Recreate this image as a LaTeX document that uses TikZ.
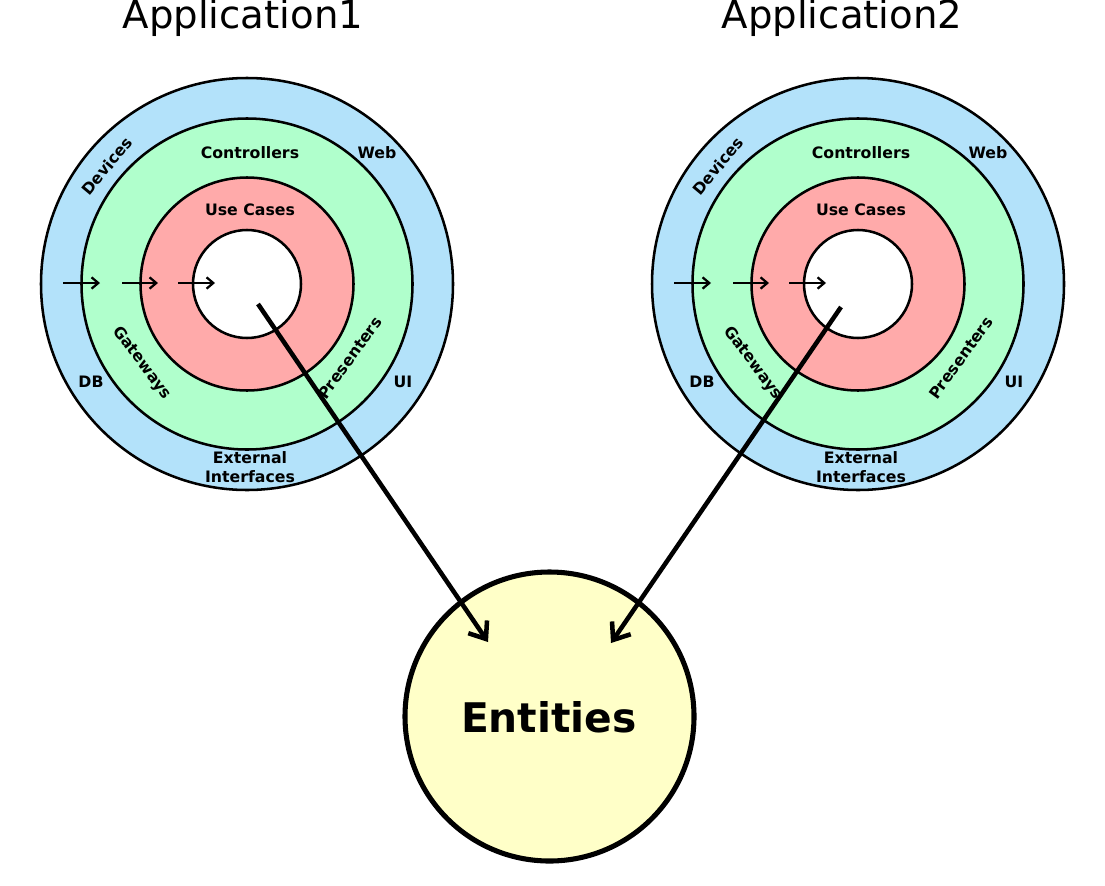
\documentclass[tikz,border=0pt]{standalone}
\usepackage{fontspec}
\setmainfont{DejaVu Sans}
\usetikzlibrary{arrows.meta,calc,positioning}
\definecolor{extblue}{RGB}{179,226,250}
\definecolor{ctlgreen}{RGB}{176,255,204}
\definecolor{usered}{RGB}{255,170,170}
\definecolor{entyellow}{RGB}{255,255,200}

\begin{document}
\begin{tikzpicture}[x=0.75pt, y=-0.75pt,
    ring/.style={circle, draw, line width=1.9pt, inner sep=0pt},
    lbl/.style={font=\fontsize{11.8}{15}\selectfont\bfseries, inner sep=0pt, align=center},
    title/.style={font=\fontsize{29}{34}\selectfont, anchor=base, inner sep=0pt},
    flow/.style={-{Straight Barb[length=5pt,width=8.5pt]}, line width=1.7pt},
    dep/.style={-{Straight Barb[length=11pt,width=17pt]}, line width=3.4pt}]
    \useasboundingbox (0,0) rectangle (1105,885);

    % the shared core
    \node[ring, line width=3.8pt, fill=entyellow, minimum size={289*0.75pt}] (ent) at (549.5,716.5) {};
    \node[anchor=base, inner sep=0pt, font=\fontsize{30.6}{36}\selectfont\bfseries] (entlbl) at (549,732) {Entities};

    % the two applications
    \foreach \i/\cx/\tx/\sx/\sy in {1/247/243/11/20, 2/858/842/-17/23} {
        \node[title] (title\i) at (\tx,28) {Application\i};

        \node[ring, fill=extblue, minimum size={412*0.75pt}] (ext\i) at (\cx,284) {};
        \node[ring, fill=ctlgreen, minimum size={331*0.75pt}] (ctl\i) at (\cx,284) {};
        \node[ring, fill=usered, minimum size={213*0.75pt}] (use\i) at (\cx,284) {};
        \node[ring, fill=white, minimum size={108*0.75pt}] (core\i) at (\cx,284) {};

        \node[lbl] (ctllbl\i) at (\cx+3,153) {Controllers};
        \node[lbl] (web\i) at (\cx+130,153) {Web};
        \node[lbl] (uselbl\i) at (\cx+3,210) {Use Cases};
        \node[lbl, rotate=50] (dev\i) at (\cx-140,166) {Devices};
        \node[lbl, rotate=-53] (gate\i) at (\cx-105,363) {Gateways};
        \node[lbl, rotate=54] (pres\i) at (\cx+103,358) {Presenters};
        \node[lbl] (db\i) at (\cx-156,382) {DB};
        \node[lbl] (ui\i) at (\cx+156,382) {UI};
        \node[lbl, font=\fontsize{11.8}{14.5}\selectfont\bfseries] (extlbl\i) at (\cx+3,467) {External\\Interfaces};

        \foreach \a/\b [count=\k] in {-184/-147, -125/-89, -69/-32} {
            \coordinate (fa\i\k) at (\cx+\a,283);
            \coordinate (fb\i\k) at (\cx+\b,283);
            \draw[flow] (fa\i\k) -- (fb\i\k);
        }
        \coordinate (src\i) at (\cx+\sx,284+\sy);
    }

    \coordinate (dst1) at (488,642);
    \coordinate (dst2) at (611,643);
    \draw[dep] (src1) -- (dst1);
    \draw[dep] (src2) -- (dst2);
\end{tikzpicture}
\end{document}
